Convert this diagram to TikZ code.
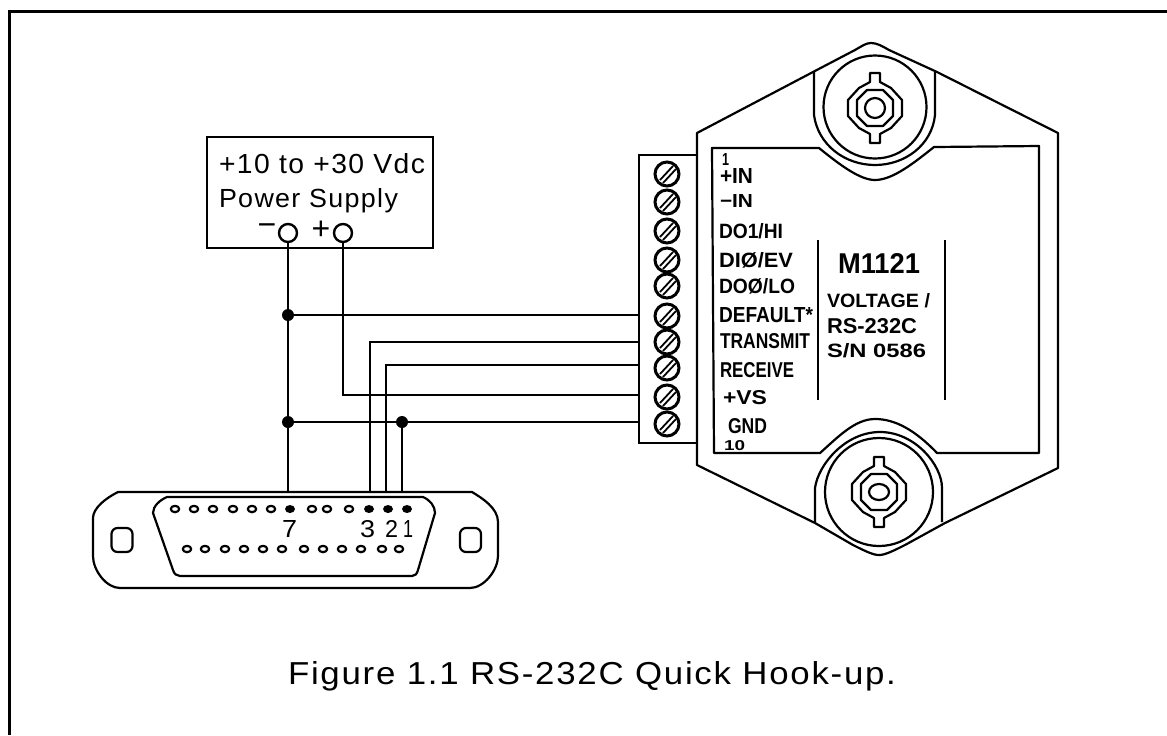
\documentclass[tikz,border=0pt]{standalone}
\usepackage{fontspec}
\usepackage{graphicx}
\setmainfont{Liberation Sans}
\newfontfamily\thinf[LetterSpace=5]{Liberation Sans}
\newfontfamily\boldf{Liberation Sans Bold}
\newdimen\pxu \pxu=0.5pt
\newcommand\fitt[3]{\resizebox{#1\pxu}{#2\pxu}{#3}}
\tikzset{
  line/.style={line width=1.1pt,line join=round},
  wire/.style={line width=1.2pt},
  lbl/.style={inner sep=0pt,outer sep=0pt,anchor=base west,font=\boldf},
  thin label/.style={inner sep=0pt,outer sep=0pt,anchor=base west,font=\thinf},
  term/.style={circle,draw,line width=1.2pt,fill=white,minimum size=18\pxu,inner sep=0pt},
  dot/.style={circle,fill=black,minimum size=12\pxu,inner sep=0pt},
  screwhead/.style={circle,draw,line width=1.5pt,fill=white,minimum size=24\pxu,inner sep=0pt},
  hole/.style={draw,line width=1.1pt,rounded corners=3pt,minimum width=21\pxu,minimum height=24\pxu,inner sep=0pt},
  sign/.style={inner sep=0pt,font=\fontsize{16}{16}\selectfont},
}
\newcommand\nutshape[3]{%
  \begin{scope}[shift={(#1,#2)}]
    \draw[line] (-5,-35) -- (5,-35) -- (5,-26) -- (16,-20) -- (27,-8) -- (27,8) -- (16,20) -- (5,26) -- (5,35) -- (-5,35) -- (-5,26) -- (-16,20) -- (-27,8) -- (-27,-8) -- (-16,-20) -- (-5,-26) -- cycle;
    \draw[line] (-8,-18) -- (8,-18) -- (18,-8) -- (18,8) -- (8,18) -- (-8,18) -- (-18,8) -- (-18,-8) -- cycle;
    \draw[line] (0,0) ellipse (10 and #3);
  \end{scope}}
\begin{document}
\begin{tikzpicture}[x=0.5pt,y=-0.5pt]
\useasboundingbox (0,0) rectangle (1167,735);
% frame
\draw[line width=1.5pt] (9.5,735) -- (9.5,11.5) -- (1167,11.5);

% module body
\draw[line] (697,465) -- (697,133) -- (813,72) -- (855,50) .. controls (862,46) and (866,43) .. (871,43) .. controls (877,43) and (882,46) .. (889,50) -- (937,72) -- (1058,133) -- (1058,468) -- (945,523) -- (905,545) .. controls (893,551) and (885,555) .. (879,555) .. controls (873,555) and (865,551) .. (853,545) -- (815,523) -- cycle;
\draw[line] (712,148) -- (819,148) .. controls (840,165) and (860,180) .. (875,180) .. controls (893,180) and (915,162) .. (934,147) -- (1039,146) -- (1039,453) -- (937,453) .. controls (915,430) and (895,419) .. (875,419) .. controls (855,419) and (838,437) .. (820,453) -- (714,453) -- cycle;
% top mount
\draw[line] (814,72) -- (814,115) .. controls (818,145) and (845,165) .. (875,165) .. controls (905,165) and (932,145) .. (935,115) -- (935,72);
\draw[line] (875,107) circle (51.5);
\nutshape{875}{108}{10}
% bottom mount
\draw[line] (815,523) -- (815,488) .. controls (818,465) and (845,432) .. (880,432) .. controls (915,432) and (942,465) .. (942,488) -- (942,522);
\draw[line] (879,492) circle (54);
\nutshape{879}{492}{8}
% centre panel
\draw[line width=1.2pt] (818,240) -- (818,400);
\draw[line width=1.2pt] (945,240) -- (945,400);

% terminal block
\node[draw,line width=1.2pt,minimum width=58\pxu,minimum height=288\pxu,inner sep=0pt] (tb) at (668,299) {};
\foreach \i/\y in {1/174,2/202,3/231,4/260,5/286,6/316,7/342,8/368,9/397,10/424}{
  \node[screwhead] (s\i) at (667,\y) {};
  \draw[line width=0.9pt] (660,\y+6) -- (673,\y-8);
  \draw[line width=0.9pt] (663,\y+9) -- (676,\y-5);
}

% power supply
\node[draw,line width=1.3pt,minimum width=226\pxu,minimum height=111\pxu,inner sep=0pt] (ps) at (320,192.5) {};
\node[thin label] (ps1) at (219,173) {\fitt{206}{20}{+10 to +30 Vdc}};
\node[thin label] (ps2) at (219,207) {\fitt{179}{19}{Power Supply}};
\node[sign] (minus) at (267,230) {−};
\node[sign] (plus) at (321,230) {+};
\node[term] (neg) at (288,233) {};
\node[term] (pos) at (343,233) {};

% connector
\draw[line] (118,492) -- (472,492) .. controls (482,498) and (498,508) .. (498,522) -- (498,556) .. controls (498,570) and (484,588) .. (470,588) -- (120,588) .. controls (106,588) and (93,570) .. (93,556) -- (93,518) .. controls (93,508) and (106,498) .. (118,492) -- cycle;
\draw[line] (167,497) -- (423,497) .. controls (430,500) and (435,506) .. (435,513) -- (418,570) .. controls (417,574) and (415,576) .. (412,576) -- (180,576) .. controls (177,576) and (174,574) .. (173,570) -- (153,513) .. controls (153,506) and (160,500) .. (167,497) -- cycle;
\node[hole] (hl) at (122,540) {};
\node[hole] (hr) at (470.5,540) {};
\foreach \x in {175,194,213,233,252,271,312,327,349}{\draw[line] (\x,509) ellipse (4.2 and 3.2);}
\foreach \x in {290,369,388,407}{\fill (\x,509) ellipse (5 and 4);}
\foreach \x in {187,205,225,244,263,282,304,323,342,361,382,399}{\draw[line] (\x,549) ellipse (4.2 and 3.2);}
\node[thin label] (n7) at (282,537) {\fitt{15}{17}{7}};
\node[thin label] (n3) at (360,537) {\fitt{15}{17}{3}};
\node[thin label] (n2) at (385,537) {\fitt{13}{17}{2}};
\node[thin label] (n1) at (403,537) {\fitt{10}{17}{1}};

% wiring
\node[dot] (j1) at (288,315) {};
\node[dot] (j2) at (288,422) {};
\node[dot] (j3) at (402,422) {};
\coordinate (t6) at (tb.west |- 0,315);
\coordinate (t7) at (tb.west |- 0,342);
\coordinate (t8) at (tb.west |- 0,365);
\coordinate (t9) at (tb.west |- 0,395);
\coordinate (t10) at (tb.west |- 0,422);
\coordinate (c7) at (288,491);
\coordinate (c3) at (370,491);
\coordinate (c2) at (386,491);
\coordinate (c1) at (402,491);
\draw[wire] (neg) -- (j1) -- (j2) -- (c7);
\draw[wire] (j1) -- (t6);
\draw[wire] (pos) |- (t9);
\draw[wire] (c3) |- (t7);
\draw[wire] (c2) |- (t8);
\draw[wire] (j2) -- (j3) -- (t10);
\draw[wire] (j3) -- (c1);

% module labels
\node[lbl] (l0) at (722,165) {\fitt{7}{12}{1}};
\node[lbl] (l1) at (720,183) {\fitt{33}{15}{+IN}};
\node[lbl] (l2) at (720,207) {\fitt{33}{13}{−IN}};
\node[lbl] (l3) at (719,238) {\fitt{64}{15}{DO1/HI}};
\node[lbl] (l4) at (719,267) {\fitt{74}{15}{DIØ/EV}};
\node[lbl] (l5) at (719,293) {\fitt{76}{15}{DOØ/LO}};
\node[lbl] (l6) at (719,322) {\fitt{94}{15}{DEFAULT*}};
\node[lbl] (l7) at (720,348) {\fitt{90}{15}{TRANSMIT}};
\node[lbl] (l8) at (720,377) {\fitt{74}{15}{RECEIVE}};
\node[lbl] (l9) at (723,404) {\fitt{44}{14}{+VS}};
\node[lbl] (l10) at (728,433) {\fitt{39}{15}{GND}};
\node[lbl] (l11) at (724,450) {\fitt{21}{10}{10}};
\node[lbl] (m1) at (838,273) {\fitt{82}{20}{M1121}};
\node[lbl] (m2) at (827,307) {\fitt{103}{14}{VOLTAGE /}};
\node[lbl] (m3) at (827,333) {\fitt{90}{15}{RS-232C}};
\node[lbl] (m4) at (827,357) {\fitt{99}{14}{S/N 0586}};

% caption
\node[thin label] (cap) at (288,684) {\fitt{608}{23}{Figure 1.1 RS-232C Quick Hook-up.}};
\end{tikzpicture}
\end{document}
